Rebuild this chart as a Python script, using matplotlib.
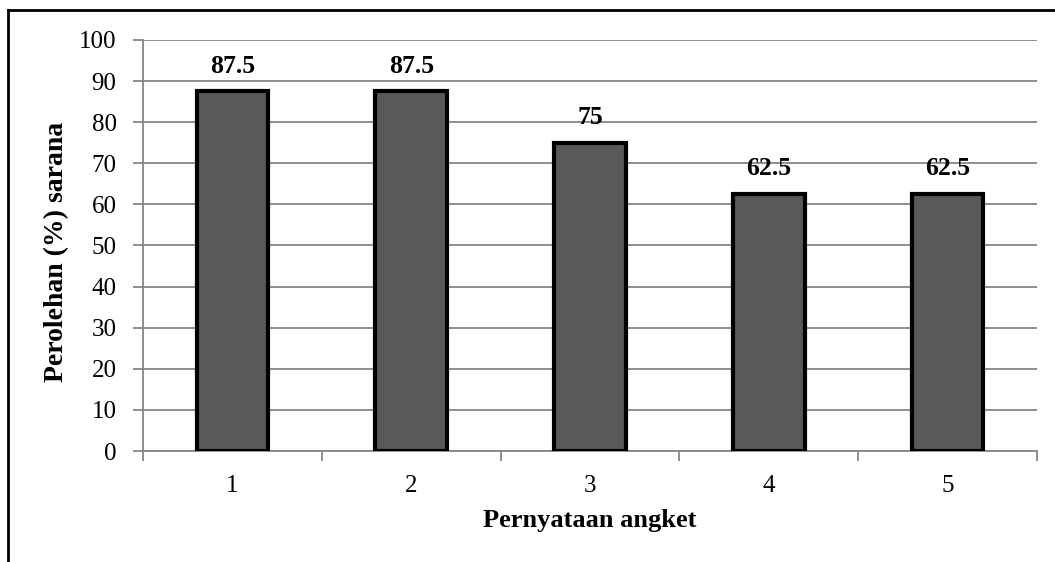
import matplotlib
matplotlib.use("Agg")
import matplotlib.pyplot as plt
from matplotlib.lines import Line2D

categories = ["1", "2", "3", "4", "5"]
values = [87.5, 87.5, 75, 62.5, 62.5]
value_labels = ["87.5", "87.5", "75", "62.5", "62.5"]
y_ticks = [0, 10, 20, 30, 40, 50, 60, 70, 80, 90, 100]

plt.rcParams["font.family"] = ["Liberation Serif", "DejaVu Serif"]

W, H = 1055, 562
fig = plt.figure(figsize=(W / 100, H / 100), dpi=100)

# axes box in pixel coordinates
left, right, top, bottom = 143, 1037, 40, 451
ax = fig.add_axes([left / W, 1 - bottom / H, (right - left) / W, (bottom - top) / H])

grid_col = "#868686"
x = list(range(len(categories)))
ax.bar(x, values, width=0.40, color="#595959", edgecolor="black",
       linewidth=3, zorder=3)

for xi, v, lab in zip(x, values, value_labels):
    ax.annotate(lab, (xi, v), xytext=(0, 13.5), textcoords="offset points",
                ha="center", va="baseline", fontsize=18.5, fontweight="bold")

ax.set_xlim(-0.5, len(categories) - 0.5)
ax.set_ylim(0, 100)
ax.set_yticks(y_ticks)
ax.set_yticklabels([str(t) for t in y_ticks], fontsize=18)
ax.yaxis.grid(True, color=grid_col, linewidth=1.3, zorder=0)
ax.tick_params(axis="y", length=7, width=1.3, color=grid_col, pad=12)

ax.set_xticks(x)
ax.set_xticklabels(categories, fontsize=18)
ax.tick_params(axis="x", length=0, pad=17)
ax.set_xticks([i - 0.5 for i in range(len(categories) + 1)], minor=True)
ax.tick_params(axis="x", which="minor", length=7, width=1.3, color=grid_col)

for s in ["top", "right"]:
    ax.spines[s].set_visible(False)
for s in ["left", "bottom"]:
    ax.spines[s].set_color(grid_col)
    ax.spines[s].set_linewidth(1.3)
ax.set_axisbelow(True)

xl = ax.set_xlabel("Pernyataan angket", fontsize=19, fontweight="bold")
xl.set_va("baseline")
ax.xaxis.set_label_coords(0.5, -0.185)
ax.set_ylabel("Perolehan (%) sarana", fontsize=20, fontweight="bold")
ax.yaxis.set_label_coords(-0.083, 0.484)

# outer frame: left and top edges
fig.add_artist(Line2D([8 / W, 8 / W], [0, 1 - 10 / H], color="black",
                      linewidth=2, transform=fig.transFigure))
fig.add_artist(Line2D([8 / W, 1], [1 - 10 / H, 1 - 10 / H], color="black",
                      linewidth=2, transform=fig.transFigure))

fig.savefig("out.png", dpi=100)
